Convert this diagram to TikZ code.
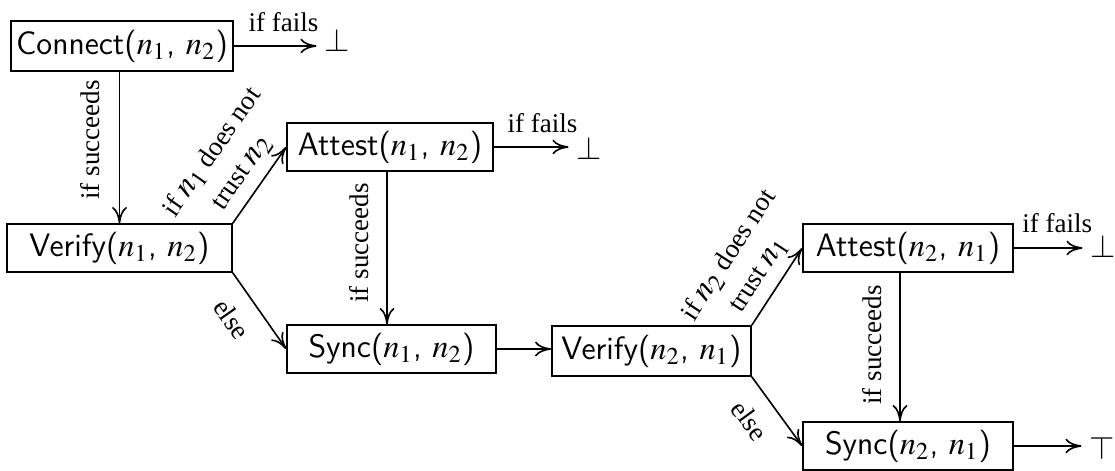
\documentclass[tikz,border=0pt]{standalone}
\usepackage{mathptmx}
\usepackage{fontspec}
\setmainfont{Liberation Serif}
\usetikzlibrary{arrows.meta}
\def\pxu{0.37037pt}
\newcommand\nn[1]{{\large$n_{#1}$}}
\begin{document}
\begin{tikzpicture}[x=\pxu, y=-\pxu, line width=0.6pt,
  box/.style={draw, font=\sffamily\large, inner xsep=1.5pt, inner ysep=0pt,
    minimum height=48*\pxu},
  lbl/.style={font=\fontsize{10}{13}\selectfont},
  bot/.style={font=\large, inner xsep=2.6pt, inner ysep=0pt},
  arr/.style={-{To[length=6pt, width=5.5pt]}}]
\useasboundingbox (0,0) rectangle (1115,470);

% protocol steps
\node[box, minimum width=222*\pxu, minimum height=50*\pxu] (c) at (122,46) {Connect($n_1$, $n_2$)};
\node[box, minimum width=225*\pxu] (v1) at (119.5,248) {Verify($n_1$, $n_2$)};
\node[box, minimum width=206*\pxu] (a1) at (390,147) {Attest($n_1$, $n_2$)};
\node[box, minimum width=209*\pxu] (s1) at (391.5,349) {Sync($n_1$, $n_2$)};
\node[box, minimum width=199*\pxu, minimum height=50*\pxu] (v2) at (651.5,351) {Verify($n_2$, $n_1$)};
\node[box, minimum width=210*\pxu] (a2) at (908,248) {Attest($n_2$, $n_1$)};
\node[box, minimum width=210*\pxu] (s2) at (908,446) {Sync($n_2$, $n_1$)};

% outcomes
\node[bot] (f1) at (337,40) {$\bot$};
\node[bot] (f2) at (589,148) {$\bot$};
\node[bot] (f3) at (1103,246) {$\bot$};
\node[bot] (tp) at (1102,448) {$\top$};

% first direction
\draw[arr] (c.east) -- node[lbl, pos=0.6, above=1.5pt] {if fails} (c.east -| f1.west);
\draw[arr] (v1.north |- c.south) -- (v1.north);
\node[lbl, rotate=90] (l1) at (90,140) {if succeeds};
\draw[arr] (v1.north east) -- node[lbl, midway, sloped, above, align=center]
  {if \nn{1} does not\\trust \nn{2}} (a1.west);
\draw[arr] (v1.south east) -- node[lbl, pos=0.4, sloped, below=3pt] {else} (s1.west);
\draw[arr] (a1.east) -- node[lbl, pos=0.65, above=1.5pt] {if fails} (a1.east -| f2.west);
\draw[arr] ([xshift=-3*\pxu]a1.south) -- ([xshift=-3*\pxu]a1.south |- s1.north);
\node[lbl, rotate=90] (l2) at (359,243) {if succeeds};

% second direction
\draw[arr] (s1.east) -- (s1.east -| v2.west);
\draw[arr] (v2.north east) -- node[lbl, midway, sloped, above, align=center]
  {if \nn{2} does not\\trust \nn{1}} (a2.west);
\draw[arr] (v2.south east) -- node[lbl, pos=0.4, sloped, below=3pt] {else} (s2.west);
\draw[arr] (a2.east) -- node[lbl, pos=0.63, above=2pt] {if fails} (a2.east -| f3.west);
\draw[arr] ([xshift=-8*\pxu]a2.south) -- ([xshift=-8*\pxu]a2.south |- s2.north);
\node[lbl, rotate=90] (l3) at (872,345) {if succeeds};
\draw[arr] (s2.east) -- (s2.east -| tp.west);
\end{tikzpicture}
\end{document}
